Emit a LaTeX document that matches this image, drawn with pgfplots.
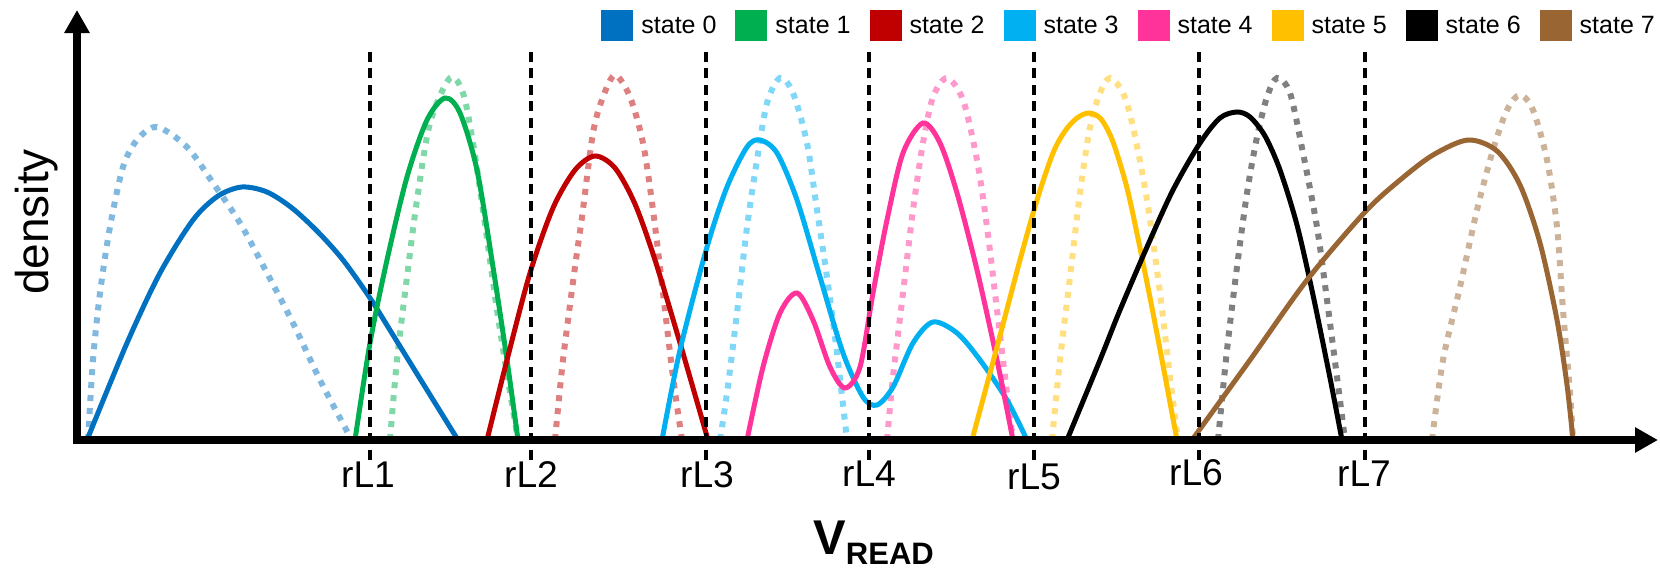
\documentclass[border=0pt]{standalone}
\usepackage{fontspec}
\setmainfont{Liberation Sans}
\usepackage{pgfplots}
\pgfplotsset{compat=1.18}
\usetikzlibrary{arrows.meta}
\definecolor{c0}{HTML}{0070C0}
\definecolor{c1}{HTML}{00B050}
\definecolor{c2}{HTML}{C00000}
\definecolor{c3}{HTML}{00B0F0}
\definecolor{c4}{HTML}{FF3399}
\definecolor{c5}{HTML}{FFC000}
\definecolor{c6}{HTML}{000000}
\definecolor{c7}{HTML}{996633}
\pgfplotsset{
  dotsty/.style={line width=3pt, dash pattern=on 3pt off 3.5pt, forget plot, smooth},
  solsty/.style={line width=2.5pt, smooth},
  vline/.style={line width=2pt, black, dash pattern=on 5pt off 3.3pt, forget plot}
}
\begin{document}
\begin{tikzpicture}
\begin{axis}[
  scale only axis, width=790.5pt, height=215pt,
  xmin=77, xmax=1658, ymin=0, ymax=430,
  axis lines=left,
  axis line style={line width=3.8pt, line cap=rect, -{Triangle[length=11.5pt,width=12pt]}},
  xtick=\empty, ytick=\empty,
  clip=false, axis on top, no markers,
  legend columns=8,
  legend style={at={(axis cs:601,430)}, anchor=north west, draw=none, fill=none,
    inner sep=0pt,
    nodes={inner sep=0pt, font=\fontsize{12.5}{14}\selectfont},
    /tikz/every odd column/.append style={column sep=4pt},
    /tikz/every even column/.append style={column sep=9.5pt}},
  legend cell align=left,
  legend image code/.code={\fill[#1, draw=none] (0pt,-7.75pt) rectangle (16pt,7.75pt);},
]
% dotted (reference) distributions
\addplot[dotsty, c0!50] coordinates {(88,0) (93,80) (100,147) (110,213) (123,273) (137,300) (157,313) (187,293) (213,257) (240,217) (267,167) (293,117) (320,60) (348,7) (352,0)};
\addplot[dotsty, c1!50] coordinates {(390,0) (397,80) (407,163) (417,240) (430,317) (450,362) (463,347) (473,297) (483,230) (497,130) (508,60) (518,0)};
\addplot[dotsty, c2!50] coordinates {(555,0) (563,80) (575,173) (582,223) (593,307) (603,343) (615,365) (630,343) (643,297) (653,230) (663,147) (673,63) (682,0)};
\addplot[dotsty, c3!50] coordinates {(720,0) (727,47) (737,127) (747,213) (757,280) (767,337) (780,362) (793,347) (807,297) (817,230) (827,163) (837,87) (847,0)};
\addplot[dotsty, c4!50] coordinates {(887,0) (893,63) (903,147) (913,230) (923,297) (933,343) (947,362) (963,340) (977,280) (987,213) (997,130) (1007,47) (1013,0)};
\addplot[dotsty, c5!50] coordinates {(1052,0) (1060,80) (1070,163) (1080,247) (1090,313) (1100,347) (1110,362) (1123,347) (1133,313) (1147,240) (1160,147) (1170,63) (1178,0)};
\addplot[dotsty, c6!50] coordinates {(1218,0) (1227,90) (1237,173) (1247,247) (1257,303) (1267,343) (1277,362) (1290,347) (1303,287) (1317,213) (1327,140) (1337,63) (1345,0)};
\addplot[dotsty, c7!50] coordinates {(1432,0) (1443,80) (1460,153) (1477,230) (1493,290) (1507,330) (1520,345) (1533,330) (1547,280) (1557,213) (1563,130) (1570,47) (1573,0)};
% solid distributions
\addplot[solsty, c0] coordinates {(87,0) (127,97) (160,167) (193,220) (218,244) (242,253) (267,248) (292,232) (318,208) (343,180) (370,142) (393,105) (427,50) (458,0)};
\addplot[solsty, c1] coordinates {(355,0) (370,97) (387,180) (407,263) (427,320) (445,342) (460,327) (477,270) (493,173) (507,80) (518,0)};
\addplot[solsty, c2] coordinates {(487,0) (507,80) (530,167) (553,232) (575,270) (595,284) (615,272) (635,236) (655,180) (680,97) (708,0)};
\addplot[solsty, c3] coordinates {(662,0) (680,90) (707,193) (727,253) (747,293) (760,300) (777,287) (797,240) (820,163) (843,87) (863,43) (877,35) (893,53) (913,97) (933,118) (957,107) (980,80) (1007,40) (1027,0)};
\addplot[solsty, c4] coordinates {(747,0) (763,73) (780,127) (797,147) (813,120) (830,73) (845,52) (860,73) (873,147) (887,220) (903,287) (923,317) (940,297) (957,247) (977,170) (997,80) (1013,0)};
\addplot[solsty, c5] coordinates {(972,0) (997,93) (1020,180) (1037,240) (1053,287) (1065,309) (1077,322) (1089,327) (1101,321) (1113,298) (1127,252) (1140,192) (1153,127) (1165,64) (1177,0)};
\addplot[solsty, c6] coordinates {(1067,0) (1100,80) (1120,130) (1147,193) (1173,250) (1200,297) (1220,322) (1237,328) (1250,323) (1265,304) (1280,270) (1297,215) (1313,145) (1330,62) (1342,0)};
\addplot[solsty, c7] coordinates {(1192,0) (1250,80) (1307,160) (1365,228) (1400,260) (1433,285) (1468,300) (1497,289) (1520,255) (1540,197) (1557,120) (1567,55) (1573,0)};
\legend{state 0,state 1,state 2,state 3,state 4,state 5,state 6,state 7}
% read reference levels
\addplot[vline] coordinates {(370,-20) (370,389)};
\addplot[vline] coordinates {(531,-20) (531,389)};
\addplot[vline] coordinates {(706,-20) (706,389)};
\addplot[vline] coordinates {(869,-20) (869,389)};
\addplot[vline] coordinates {(1034,-20) (1034,389)};
\addplot[vline] coordinates {(1199,-20) (1199,389)};
\addplot[vline] coordinates {(1365,-20) (1365,389)};
\begin{scope}[every node/.style={anchor=base, inner sep=0pt, font=\fontsize{18.6}{20}\selectfont}]
\node at (axis cs:368,-47) {rL1};
\node at (axis cs:531,-47) {rL2};
\node at (axis cs:707,-47) {rL3};
\node at (axis cs:869,-46) {rL4};
\node at (axis cs:1034,-49) {rL5};
\node at (axis cs:1196,-45) {rL6};
\node at (axis cs:1364,-46) {rL7};
\end{scope}
\node[rotate=90, inner sep=0pt, font=\fontsize{23}{25}\selectfont] at (axis cs:37,218) {density};
\node[anchor=base west, inner sep=0pt] at (axis cs:813,-114) {{\fontsize{24.4}{26}\selectfont\bfseries V}\raisebox{-5pt}{\fontsize{15.5}{17}\selectfont\bfseries READ}};
\coordinate (bbSW) at (axis cs:0,-129);
\coordinate (bbNE) at (axis cs:1660,440);
\end{axis}
\pgfresetboundingbox
\path[use as bounding box] (bbSW) rectangle (bbNE);
\end{tikzpicture}
\end{document}
